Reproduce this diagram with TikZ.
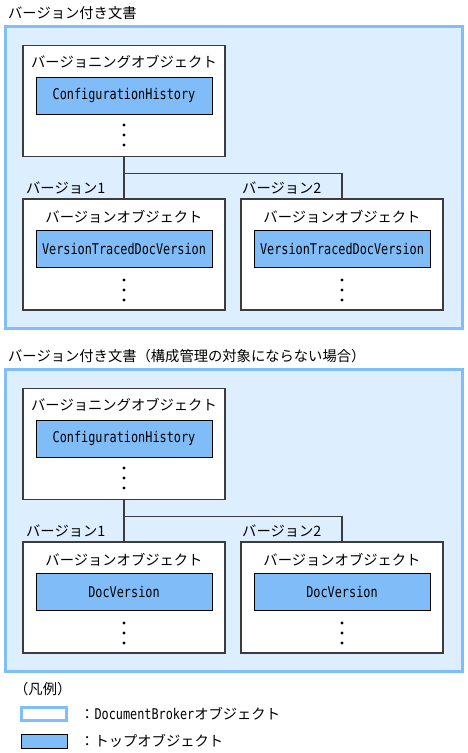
\documentclass[tikz,border=0pt]{standalone}
\usepackage{fontspec}
\setmainfont{Noto Sans CJK JP}
\newfontfamily\mono[FakeStretch=0.8]{DejaVu Sans Mono}
\definecolor{docfill}{HTML}{DDEEFF}
\definecolor{docline}{HTML}{80BEFA}
\definecolor{topfill}{HTML}{7FBCF8}
\definecolor{boxline}{HTML}{3C3C3C}
\tikzset{
  docbox/.style={draw=docline, line width=3.5pt, fill=docfill},
  objbox/.style={draw=boxline, line width=1.2pt, fill=white, minimum width=202pt, minimum height=111pt, inner sep=0pt},
  topbox/.style={draw=black, line width=1pt, fill=topfill, minimum width=176pt, minimum height=37pt, inner sep=0pt, font=\mono\fontsize{14.8}{16}\selectfont},
  jtext/.style={inner sep=0pt, font=\fontsize{14.3}{16}\selectfont},
  conn/.style={draw=boxline, line width=1.2pt},
  vdot/.style={circle, fill=black, inner sep=0pt, minimum size=3.2pt}
}
\begin{document}
\begin{tikzpicture}[x=1pt,y=-1pt]
\useasboundingbox (0,0) rectangle (468,753);
% ---------- Section 1 ----------
\node[jtext, anchor=west] (t1) at (8,13) {バージョン付き文書};
\draw[docbox] (5.5,26.5) rectangle (462.5,328.5);
\node[objbox] (vo1) at (124,101) {};
\node[jtext] (vo1l) at (124,62) {バージョニングオブジェクト};
\node[topbox] (ch1) at (124,95.5) {ConfigurationHistory};
\node[vdot] (d11) at (124,125) {};
\node[vdot] (d12) at (124,135) {};
\node[vdot] (d13) at (124,145) {};
\node[objbox] (va1) at (124,254.5) {};
\node[objbox] (vb1) at (342,254.5) {};
\node[jtext, anchor=west] (la1) at (26,188) {バージョン1};
\node[jtext, anchor=west] (lb1) at (242,188) {バージョン2};
\node[jtext] (va1l) at (124,217) {バージョンオブジェクト};
\node[jtext] (vb1l) at (342,217) {バージョンオブジェクト};
\node[topbox] (ta1) at (124,248.5) {VersionTracedDocVersion};
\node[topbox] (tb1) at (342,248.5) {VersionTracedDocVersion};
\foreach \y [count=\i] in {280,290,300} {
  \node[vdot] (da1\i) at (124,\y) {};
  \node[vdot] (db1\i) at (342,\y) {};
}
\draw[conn] (vo1.south) -- (va1.north) coordinate[pos=0.4] (j1);
\draw[conn] (j1) -| (vb1.north);
% ---------- Section 2 ----------
\node[jtext, anchor=west] (t2) at (8,356) {バージョン付き文書（構成管理の対象にならない場合）};
\draw[docbox] (5.5,369.5) rectangle (462.5,671.5);
\node[objbox] (vo2) at (124,444) {};
\node[jtext] (vo2l) at (124,405) {バージョニングオブジェクト};
\node[topbox] (ch2) at (124,438.5) {ConfigurationHistory};
\node[vdot] (d21) at (124,468) {};
\node[vdot] (d22) at (124,478) {};
\node[vdot] (d23) at (124,488) {};
\node[objbox] (va2) at (124,597.5) {};
\node[objbox] (vb2) at (342,597.5) {};
\node[jtext, anchor=west] (la2) at (26,531) {バージョン1};
\node[jtext, anchor=west] (lb2) at (242,531) {バージョン2};
\node[jtext] (va2l) at (124,560) {バージョンオブジェクト};
\node[jtext] (vb2l) at (342,560) {バージョンオブジェクト};
\node[topbox] (ta2) at (124,591.5) {DocVersion};
\node[topbox] (tb2) at (342,591.5) {DocVersion};
\foreach \y [count=\i] in {623,633,643} {
  \node[vdot] (da2\i) at (124,\y) {};
  \node[vdot] (db2\i) at (342,\y) {};
}
\draw[conn] (vo2.south) -- (va2.north) coordinate[pos=0.4] (j2);
\draw[conn] (j2) -| (vb2.north);
% ---------- Legend ----------
\node[jtext, anchor=west] (lg) at (14,689) {（凡例）};
\node[draw=docline, line width=3pt, fill=white, minimum width=45pt, minimum height=13pt, inner sep=0pt] (lg1) at (44,714) {};
\node[draw=black, line width=1pt, fill=topfill, minimum width=46pt, minimum height=14pt, inner sep=0pt] (lg2) at (44,741) {};
\node[jtext, anchor=west] (lg1t) at (80,714) {：{\mono\fontsize{14.8}{16}\selectfont DocumentBroker}オブジェクト};
\node[jtext, anchor=west] (lg2t) at (80,741) {：トップオブジェクト};
\end{tikzpicture}
\end{document}
